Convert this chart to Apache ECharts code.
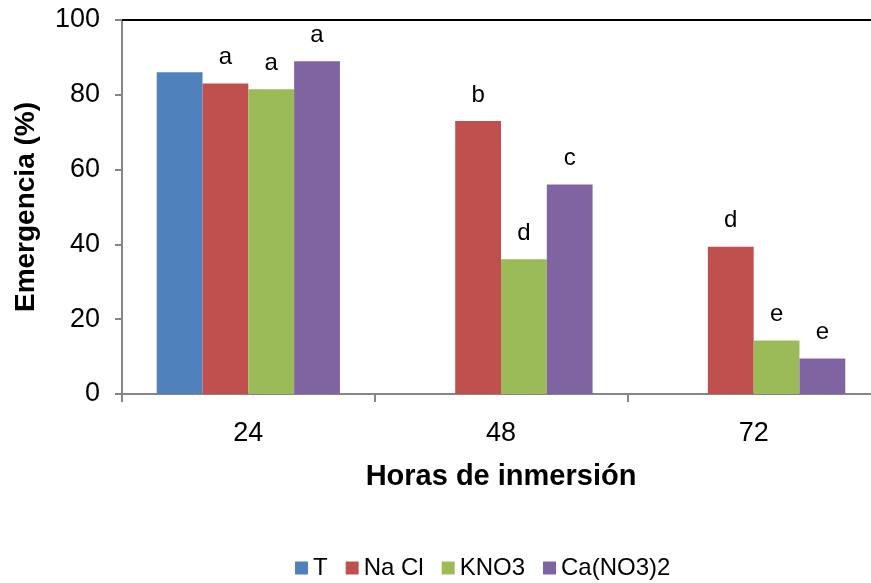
<!DOCTYPE html>
<html>
<head>
<meta charset="utf-8">
<script src="https://cdn.jsdelivr.net/npm/echarts@6/dist/echarts.min.js"></script>
<style>
  html, body { margin: 0; padding: 0; background: #fff; }
  #chart { width: 871px; height: 583px; }
</style>
</head>
<body>
<div id="chart"></div>
<script>
// Hours of immersion (categories) and emergence (%) per treatment
const hours = ['24', '48', '72'];
const seriesNames = ['T', 'Na Cl', 'KNO3', 'Ca(NO3)2'];
const valuesT     = [86, null, null];
const valuesNaCl  = [83, 73, 39.4];
const valuesKNO3  = [81.5, 36, 14.3];
const valuesCaNO3 = [89, 56, 9.5];
// Significance letters shown above each bar
const lettersT     = ['', '', ''];
const lettersNaCl  = ['a', 'b', 'd'];
const lettersKNO3  = ['a', 'd', 'e'];
const lettersCaNO3 = ['a', 'c', 'e'];
const yTicks = { min: 0, max: 100, interval: 20 };

const colors = ['#4F81BD', '#C0504D', '#9BBB59', '#8064A2'];
const font = 'Liberation Sans, Arial, sans-serif';

function barSeries(name, values, letters, color) {
  return {
    name: name,
    type: 'bar',
    xAxisIndex: 0,
    barGap: 0,
    barCategoryGap: '27.5%',
    itemStyle: { color: color },
    data: values,
    label: {
      show: true,
      position: 'top',
      distance: 14,
      fontFamily: font,
      fontSize: 24,
      color: '#000',
      formatter: p => letters[p.dataIndex]
    }
  };
}

const chart = echarts.init(document.getElementById('chart'));
chart.setOption({
  animation: false,
  color: colors,
  grid: { left: 122, top: 20, width: 758, height: 374, containLabel: false, outerBoundsMode: 'none' },
  legend: {
    left: 290,
    top: 551,
    icon: 'rect',
    itemWidth: 13,
    itemHeight: 13,
    itemGap: 18,
    textStyle: { fontFamily: font, fontSize: 24, color: '#000' },
    data: seriesNames
  },
  xAxis: [{
    type: 'category',
    data: hours,
    name: 'Horas de inmersión',
    nameLocation: 'middle',
    nameGap: 68,
    nameTextStyle: { fontFamily: font, fontSize: 29, fontWeight: 'bold', color: '#000' },
    axisLine: { lineStyle: { color: '#868686', width: 2 } },
    axisTick: { show: true, length: 8, lineStyle: { color: '#868686', width: 2 } },
    axisLabel: { fontFamily: font, fontSize: 27, color: '#000', margin: 26 }
  }, {
    type: 'category',
    data: hours,
    position: 'top',
    axisLine: { show: true, lineStyle: { color: '#000', width: 2 } },
    axisTick: { show: false },
    axisLabel: { show: false }
  }],
  yAxis: {
    type: 'value',
    min: yTicks.min,
    max: yTicks.max,
    interval: yTicks.interval,
    name: 'Emergencia (%)',
    nameLocation: 'middle',
    nameRotate: 90,
    nameGap: 82,
    nameTextStyle: { fontFamily: font, fontSize: 28, fontWeight: 'bold', color: '#000' },
    axisLine: { show: true, lineStyle: { color: '#868686', width: 2 } },
    axisTick: { show: true, length: 7, lineStyle: { color: '#868686', width: 2 } },
    axisLabel: { fontFamily: font, fontSize: 27, color: '#000', margin: 22 },
    splitLine: { show: false }
  },
  series: [
    barSeries(seriesNames[0], valuesT, lettersT, colors[0]),
    barSeries(seriesNames[1], valuesNaCl, lettersNaCl, colors[1]),
    barSeries(seriesNames[2], valuesKNO3, lettersKNO3, colors[2]),
    barSeries(seriesNames[3], valuesCaNO3, lettersCaNO3, colors[3])
  ]
});
</script>
</body>
</html>
